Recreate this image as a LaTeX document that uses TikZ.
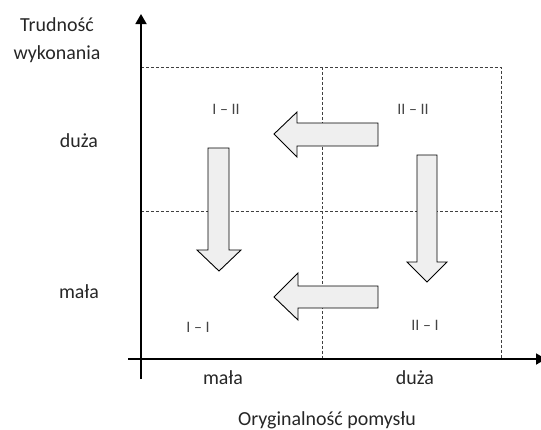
\documentclass[tikz,border=0pt]{standalone}
\usepackage{fontspec}
\setmainfont{Carlito}
\usetikzlibrary{arrows.meta}
\definecolor{boxfill}{HTML}{EFEFEF}
\definecolor{labelgray}{HTML}{262626}
\definecolor{romangray}{HTML}{444444}
\tikzset{
  axis/.style={line width=1.8pt, -{Triangle[length=10bp,width=11bp]}},
  grid line/.style={densely dashed, line width=0.7pt, black!75},
  blockarrow/.style={draw=black, line width=0.9pt, fill=boxfill, line join=miter},
  axislabel/.style={font=\fontsize{20}{23}\selectfont, text=labelgray, align=center, inner sep=0pt},
  quadlabel/.style={font=\fontsize{16}{19}\selectfont, text=romangray, inner sep=0pt}
}
\begin{document}
\begin{tikzpicture}[x=1bp, y=-1bp]
\useasboundingbox (0,0) rectangle (541,429);

% axes
\coordinate (origin) at (141,359);
\coordinate (ytop) at (141,14);
\coordinate (ybottom) at (141,379);
\coordinate (xleft) at (128,359);
\coordinate (xright) at (546,359);

% dashed grid of the four fields
\draw[grid line] (141,67) -- (501,67) -- (501,359);
\draw[grid line] (141,211) -- (501,211);
\draw[grid line] (322,67) -- (322,359);

\draw[axis] (ybottom) -- (ytop);
\draw[axis] (xleft) -- (xright);

% block arrows
\draw[blockarrow] (274,134) -- (297,112) -- (297,123) -- (378,123) -- (378,146) -- (297,146) -- (297,157) -- cycle;
\draw[blockarrow] (274,297) -- (298,273) -- (298,286) -- (378,286) -- (378,308) -- (298,308) -- (298,320) -- cycle;
\draw[blockarrow] (219,271) -- (197,250) -- (208,250) -- (208,148) -- (229,148) -- (229,250) -- (241,250) -- cycle;
\draw[blockarrow] (427,282) -- (407,262) -- (417,262) -- (417,155) -- (437,155) -- (437,262) -- (447,262) -- cycle;

% quadrant labels
\node[quadlabel] (q12) at (226,109) {I – II};
\node[quadlabel] (q22) at (413,109) {II – II};
\node[quadlabel] (q11) at (198,327) {I – I};
\node[quadlabel] (q21) at (425,325) {II – I};

% axis captions
\node[axislabel] (ytitle) at (57,40) {Trudność\\[5bp]wykonania};
\node[axislabel] (yhigh) at (79,141) {duża};
\node[axislabel] (ylow) at (79,292) {mała};
\node[axislabel] (xlow) at (223,378) {mała};
\node[axislabel] (xhigh) at (415,378) {duża};
\node[axislabel] (xtitle) at (327,420) {Oryginalność pomysłu};
\end{tikzpicture}
\end{document}
